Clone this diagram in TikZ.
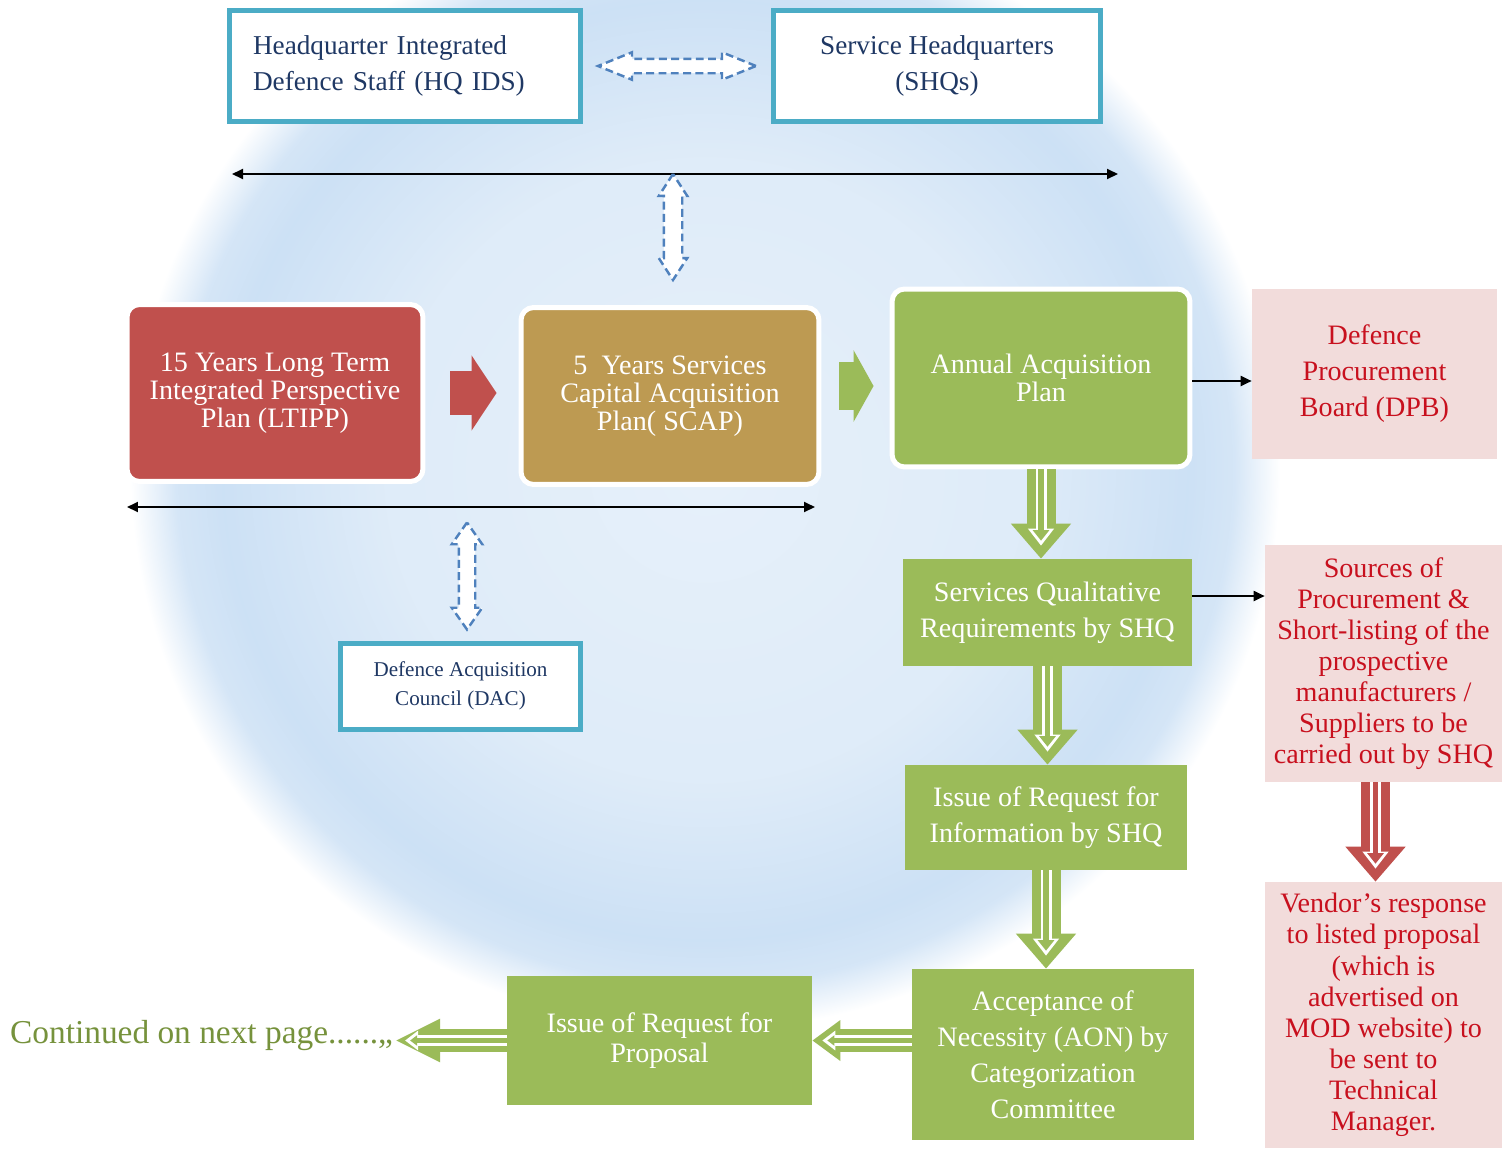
\documentclass[tikz,border=0pt]{standalone}
\usepackage{fontspec}
\setmainfont{Liberation Serif}
\usetikzlibrary{arrows.meta, positioning, calc, shapes.arrows}
\definecolor{myaqua}{RGB}{75, 172, 198}
\definecolor{mydash}{RGB}{79, 129, 189}
\definecolor{myred}{RGB}{192, 80, 77}
\definecolor{mytan}{RGB}{189, 154, 82}
\definecolor{mygreen}{RGB}{155, 187, 89}
\definecolor{mypink}{RGB}{242, 220, 219}
\definecolor{mytext}{RGB}{200, 16, 30}
\definecolor{mynavy}{RGB}{31, 56, 100}
\definecolor{myolive}{RGB}{118, 146, 60}
\definecolor{myglobe}{RGB}{190, 216, 242}

\pgfdeclareradialshading{globeshade}{\pgfpoint{0bp}{0bp}}{%
  color(0bp)=(myglobe!38); color(14bp)=(myglobe!50); color(21bp)=(myglobe!78);
  color(23bp)=(myglobe!65); color(25bp)=(white); color(50bp)=(white)}

\tikzset{
  wbox/.style={rectangle, draw=myaqua, line width=0.1cm, fill=white, text=mynavy, font=\fontsize{15.5}{20.5}\selectfont},
  rbox/.style={rectangle, rounded corners=0.25cm, draw=white, line width=0.1cm, text=white, align=center, font=\fontsize{16}{16}\selectfont},
  gbox/.style={rectangle, fill=mygreen, text=white, align=center, font=\fontsize{16}{20.5}\selectfont},
  pbox/.style={rectangle, fill=mypink, text=mytext, align=center, minimum width=4.74cm, font=\fontsize{16}{17.7}\selectfont},
  dasharr/.style={double arrow, draw=mydash, line width=1.4pt, dash pattern=on 4.5pt off 2.5pt, fill=white, inner xsep=0pt},
  bline/.style={line width=1.1pt, {Triangle[length=0.22cm,width=0.2cm]}-{Triangle[length=0.22cm,width=0.2cm]}},
  barr/.style={line width=1.1pt, -{Triangle[length=0.22cm,width=0.2cm]}},
  fatarr/.style={draw=#1, line width=0.88cm, -{Triangle[width=1.48cm,length=0.5cm]}},
  hollowv/.style={draw=#1, line width=0.58cm, -{Triangle[width=1.16cm,length=0.7cm]},
    postaction={draw=white, line width=0.22cm, shorten >=0.26cm, -{Triangle[width=0.5cm,length=0.34cm]}},
    postaction={draw=#1, line width=0.11cm, shorten >=0.36cm, -{Triangle[width=0.32cm,length=0.21cm]}}},
  hollowh/.style={draw=#1, line width=0.46cm, -{Triangle[width=0.78cm,length=0.56cm]},
    postaction={draw=white, line width=0.22cm, shorten >=0.2cm, -{Triangle[width=0.38cm,length=0.26cm]}},
    postaction={draw=#1, line width=0.09cm, shorten >=0.3cm, -{Triangle[width=0.2cm,length=0.14cm]}}}
}

\begin{document}
\begin{tikzpicture}[x=0.02cm, y=-0.02cm]
    \useasboundingbox (0,0) rectangle (1504,1150);
    \fill[white] (0,0) rectangle (1504,1150);

    % globe in the background
    \begin{scope}
        \clip (0,0) rectangle (1504,1150);
        \shade[shading=globeshade] (705,470) ellipse [x radius=11.5cm, y radius=11.2cm];
    \end{scope}

    % headquarters
    \node[wbox, minimum width=7.04cm, minimum height=2.22cm, text width=6.08cm, align=left] (hqids) at (405,66) {Headquarter Integrated\\Defence Staff (HQ IDS)};
    \node[wbox, minimum width=6.56cm, minimum height=2.22cm, align=center] (shq) at (937,66) {Service Headquarters\\(SHQs)};
    \node[dasharr, minimum height=3.16cm, minimum width=0.5cm, inner ysep=0.12cm, double arrow head extend=0.13cm, double arrow tip angle=44] (hqarr) at ($(hqids.east)!0.5!(shq.west)$) {};

    \coordinate (tl) at (232,174);
    \coordinate (tr) at (1118,174);
    \draw[bline] (tl) -- (tr);
    \node[dasharr, rotate=90, minimum height=2.12cm, minimum width=0.52cm, inner ysep=0.16cm, double arrow head extend=0.1cm, double arrow tip angle=66] (toparr) at (673,227) {};

    % plans
    \node[rbox, fill=myred, minimum width=5.92cm, minimum height=3.54cm] (ltipp) at (275,393) {15 Years Long Term\\Integrated Perspective\\Plan (LTIPP)};
    \node[rbox, fill=mytan, minimum width=5.96cm, minimum height=3.54cm] (scap) at (670,396) {5\ \ Years Services\\Capital Acquisition\\Plan( SCAP)};
    \node[rbox, fill=mygreen, minimum width=5.96cm, minimum height=3.56cm] (aap) at (1041,378) {Annual Acquisition\\Plan};
    \node[pbox, minimum width=4.9cm, minimum height=3.4cm, font=\fontsize{16}{20.5}\selectfont] (dpb) at (1374.5,374) {Defence\\Procurement\\Board (DPB)};

    \draw[fatarr=myred, shorten <=0.5cm, shorten >=0.44cm] (ltipp.east) -- (ltipp.east -| scap.west);
    \draw[fatarr=mygreen, line width=0.96cm, -{Triangle[width=1.42cm,length=0.4cm]}, shorten <=0.36cm, shorten >=0.32cm] ([yshift=0.2cm]scap.east) -- ([yshift=0.2cm]scap.east -| aap.west);
    \draw[barr] ([yshift=-0.06cm]aap.east) -- ([yshift=-0.06cm]aap.east -| dpb.west);

    \coordinate (bl) at (127,507);
    \coordinate (br) at (815,507);
    \draw[bline] (bl) -- (br);
    \node[dasharr, rotate=90, minimum height=2.14cm, minimum width=0.56cm, inner ysep=0.14cm, double arrow head extend=0.14cm, double arrow tip angle=70] (botarr) at (467,576) {};

    % council
    \node[wbox, minimum width=4.82cm, minimum height=1.72cm, align=center, font=\fontsize{12}{16.5}\selectfont] (dac) at (460.5,686) {Defence Acquisition\\Council (DAC)};

    % green steps
    \node[gbox, minimum width=5.78cm, minimum height=2.14cm] (sqr) at (1047.5,612.5) {Services Qualitative\\Requirements by SHQ};
    \node[gbox, minimum width=5.64cm, minimum height=2.1cm] (irfi) at (1046,817.5) {Issue of Request for\\Information by SHQ};
    \node[gbox, minimum width=5.64cm, minimum height=3.42cm] (aon) at (1053,1054.5) {Acceptance of\\Necessity (AON) by\\Categorization\\Committee};
    \node[gbox, minimum width=6.1cm, minimum height=2.58cm, font=\fontsize{16}{17}\selectfont] (irfp) at (659.5,1040.5) {Issue of Request for\\Proposal};
    \node[anchor=west, inner sep=1pt, text=myolive, font=\fontsize{19}{22}\selectfont] (cont) at (8,1036) {Continued on next page......,,};

    \draw[hollowv=mygreen] (aap.south) -- (aap.south |- sqr.north);
    \draw[hollowv=mygreen] (sqr.south) -- (sqr.south |- irfi.north);
    \draw[hollowv=mygreen] (irfi.south) -- (irfi.south |- aon.north);
    \draw[hollowh=mygreen] (aon.west |- irfp.east) -- (irfp.east);
    \draw[hollowh=mygreen, -{Triangle[width=0.8cm,length=0.9cm]}] (irfp.west) -- (irfp.west -| cont.east);

    % vendor side
    \node[pbox, minimum height=4.74cm] (src) at (1383.5,663.5) {Sources of\\Procurement \&\\Short-listing of the\\prospective\\manufacturers /\\Suppliers to be\\carried out by SHQ};
    \node[pbox, minimum height=5.32cm] (vendor) at (1383.5,1015) {Vendor’s response\\to listed proposal\\(which is\\advertised on\\MOD website) to\\be sent to\\Technical\\Manager.};

    \draw[barr] ([yshift=0.33cm]sqr.east) -- ([yshift=0.33cm]sqr.east -| src.west);
    \draw[hollowv=myred] ([xshift=-0.16cm]src.south) -- ([xshift=-0.16cm]vendor.north);
\end{tikzpicture}
\end{document}
